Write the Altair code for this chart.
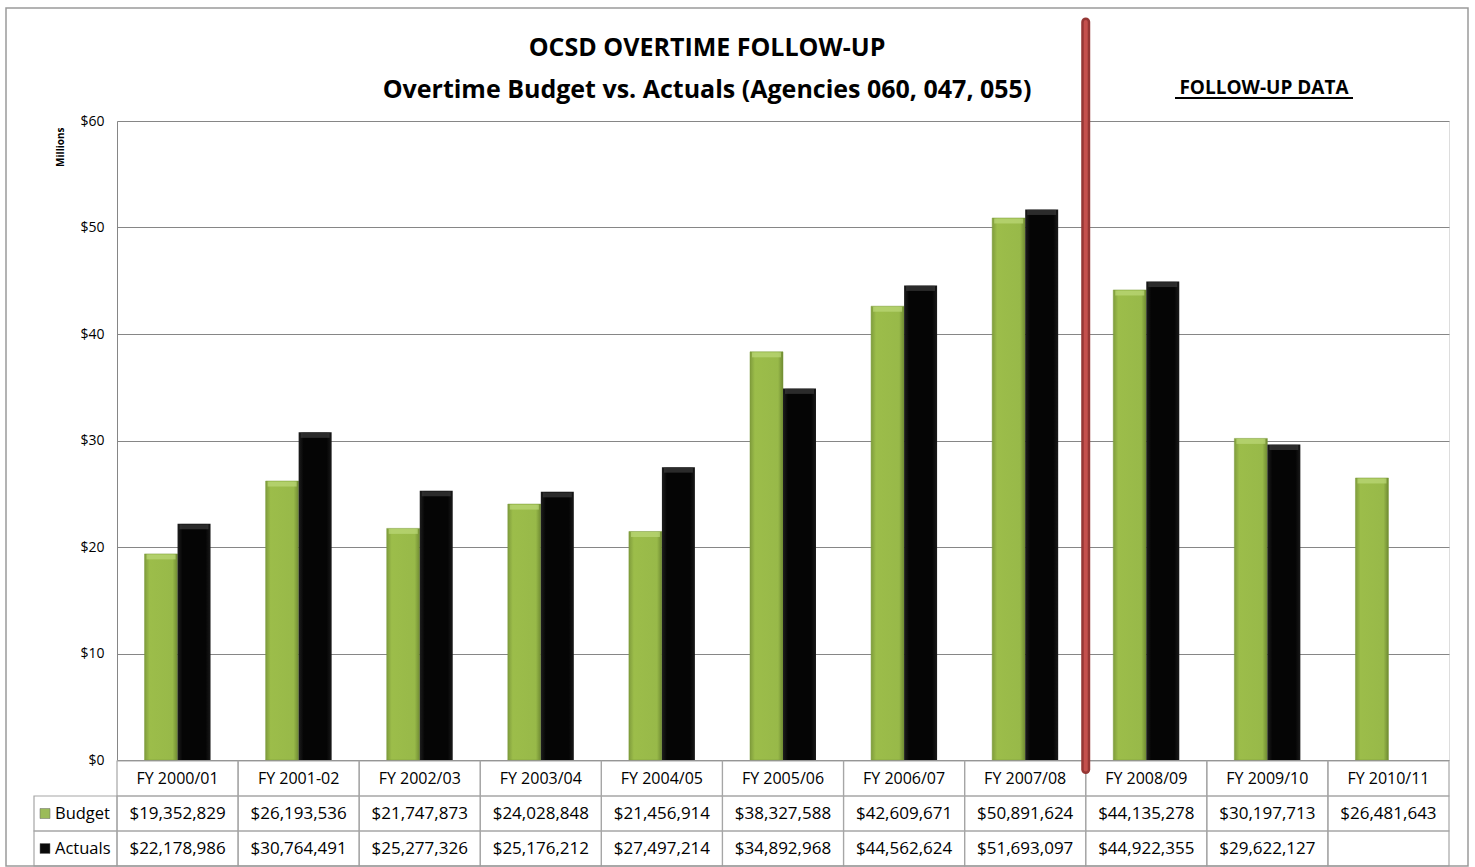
import altair as alt
import pandas as pd

# ---------------- data ----------------
categories = ["FY 2000/01", "FY 2001-02", "FY 2002/03", "FY 2003/04", "FY 2004/05",
              "FY 2005/06", "FY 2006/07", "FY 2007/08", "FY 2008/09", "FY 2009/10",
              "FY 2010/11"]
budget = [19352829, 26193536, 21747873, 24028848, 21456914, 38327588,
          42609671, 50891624, 44135278, 30197713, 26481643]
actuals = [22178986, 30764491, 25277326, 25176212, 27497214, 34892968,
           44562624, 51693097, 44922355, 29622127, None]
series = ["Budget", "Actuals"]
row_keys = ["header", "Budget", "Actuals"]
y_ticks = [0, 10, 20, 30, 40, 50, 60]
title_lines = ["OCSD OVERTIME FOLLOW-UP", "Overtime Budget vs. Actuals (Agencies 060, 047, 055)"]
divider_cat = "FY 2008/09"
divider_top = 69.3
divider_bottom = -0.9
followup_cat = "FY 2009/10"

FONT = "Open Sans"
W, H = 1332, 639
GREEN, BLACK = "#9bbb59", "#0a0a0a"

def money(v):
    return "" if v is None else "${:,}".format(v)

bar_rows = []
for c, b, a in zip(categories, budget, actuals):
    bar_rows.append({"cat": c, "series": "Budget", "value": b / 1e6})
    if a is not None:
        bar_rows.append({"cat": c, "series": "Actuals", "value": a / 1e6})
bars_df = pd.DataFrame(bar_rows)

cell_rows = []
for c, b, a in zip(categories, budget, actuals):
    cell_rows.append({"cat": c, "row": "header", "text": c, "size": 16})
    cell_rows.append({"cat": c, "row": "Budget", "text": money(b), "size": 17})
    cell_rows.append({"cat": c, "row": "Actuals", "text": money(a), "size": 17})
cells_df = pd.DataFrame(cell_rows)

label_df = pd.DataFrame({"row": ["Budget", "Actuals"], "series": ["Budget", "Actuals"]})
divider_df = pd.DataFrame({"cat": [divider_cat], "top": [divider_top], "bottom": [divider_bottom]})
follow_df = pd.DataFrame({"cat": [followup_cat], "text": ["FOLLOW-UP DATA"]})
title_df = pd.DataFrame({"line": title_lines, "ypix": [-73, -31]})
one_df = pd.DataFrame({"k": [0]})

# ---------------- scales / encodings ----------------
bar_x = alt.X("cat:N", scale=alt.Scale(domain=categories, paddingInner=0.455, paddingOuter=0.2275), axis=None)
bar_xo = alt.XOffset("series:N", scale=alt.Scale(domain=series))
val_scale = alt.Scale(domain=[0, 60], nice=False, zero=False)
tbl_x_scale = alt.Scale(domain=categories, paddingInner=0, paddingOuter=0)
row_y = alt.Y("row:N", scale=alt.Scale(domain=row_keys, range=[640, 745], paddingInner=0, paddingOuter=0), axis=None)

green_grad = alt.LinearGradient(gradient="linear", x1=0, x2=1, y1=0, y2=0, stops=[
    alt.GradientStop(offset=0, color="#7f9c3c"),
    alt.GradientStop(offset=0.15, color="#9cbd4a"),
    alt.GradientStop(offset=0.85, color="#98b949"),
    alt.GradientStop(offset=1, color="#6f8a32")])
black_grad = alt.LinearGradient(gradient="linear", x1=0, x2=1, y1=0, y2=0, stops=[
    alt.GradientStop(offset=0, color="#1e1e1e"),
    alt.GradientStop(offset=0.15, color="#050505"),
    alt.GradientStop(offset=0.85, color="#050505"),
    alt.GradientStop(offset=1, color="#1a1a1a")])

bud_df = bars_df[bars_df.series == "Budget"]
act_df = bars_df[bars_df.series == "Actuals"]

y_axis = alt.Axis(values=y_ticks, labelExpr="'$' + datum.value", title="Millions",
                  labelFont=FONT, labelFontSize=14, labelColor="black", labelPadding=13,
                  ticks=False, domainColor="#868686", gridColor="#868686", grid=True,
                  titleFont=FONT, titleFontSize=10, titleFontWeight="bold", titleColor="black",
                  titleAnchor="end", titlePadding=14, titleY=6)

budget_bars = alt.Chart(bud_df).mark_bar(fill=green_grad, stroke="#7a9a3a", strokeWidth=0.5).encode(
    x=bar_x, xOffset=bar_xo, y=alt.Y("value:Q", scale=val_scale, axis=y_axis))
actual_bars = alt.Chart(act_df).mark_bar(fill=black_grad).encode(
    x=bar_x, xOffset=bar_xo, y=alt.Y("value:Q", scale=val_scale, axis=None))
budget_top = alt.Chart(bud_df).mark_tick(color="#bcd979", thickness=5, size=29, yOffset=3).encode(
    x=bar_x, xOffset=bar_xo, y=alt.Y("value:Q", scale=val_scale, axis=None))
actual_top = alt.Chart(act_df).mark_tick(color="#3c3c3c", thickness=5, size=29, yOffset=3).encode(
    x=bar_x, xOffset=bar_xo, y=alt.Y("value:Q", scale=val_scale, axis=None))

tbl_x = alt.X("cat:N", scale=tbl_x_scale, axis=None)
cell_rects = alt.Chart(cells_df).mark_rect(fill="transparent", stroke="#a6a6a6", strokeWidth=1.2).encode(
    x=tbl_x, y=row_y)
cell_text = alt.Chart(cells_df).mark_text(font=FONT, color="black").encode(
    x=tbl_x, y=row_y, text="text:N", size=alt.Size("size:Q", scale=None, legend=None))

label_rects = alt.Chart(label_df).mark_rect(fill="transparent", stroke="#a6a6a6", strokeWidth=1.2).encode(
    x=alt.value(-83), x2=alt.value(0), y=row_y)
label_text = alt.Chart(label_df).mark_text(font=FONT, fontSize=16.5, color="black", align="left").encode(
    x=alt.value(-62), y=row_y, text="row:N")
label_swatch = alt.Chart(label_df).mark_square(size=100, opacity=1, stroke="#666", strokeWidth=0.5).encode(
    x=alt.value(-72), y=row_y,
    color=alt.Color("series:N", scale=alt.Scale(domain=series, range=[GREEN, BLACK]), legend=None))

div_x = alt.X("cat:N", scale=tbl_x_scale, axis=None, bandPosition=0)
div_outer = alt.Chart(divider_df).mark_rule(color="#953735", strokeWidth=9, strokeCap="round").encode(
    x=div_x, y=alt.Y("top:Q", scale=val_scale, axis=None), y2="bottom:Q")
div_inner = alt.Chart(divider_df).mark_rule(color="#c4504d", strokeWidth=4, strokeCap="round").encode(
    x=div_x, y=alt.Y("top:Q", scale=val_scale, axis=None), y2="bottom:Q")

follow_text = alt.Chart(follow_df).mark_text(font=FONT, fontSize=19, fontWeight="bold", color="black").encode(
    x=alt.value(1147), y=alt.value(-33), text="text:N")
follow_line = alt.Chart(one_df).mark_rule(color="black", strokeWidth=2).encode(
    x=alt.value(1058), x2=alt.value(1236), y=alt.value(-23))

title_text = alt.Chart(title_df).mark_text(font=FONT, fontSize=25, fontWeight="bold", color="black",
                                           baseline="middle").encode(
    x=alt.value(590), y=alt.Y("ypix:Q", scale=None, axis=None), text="line:N")

border = alt.Chart(one_df).mark_rect(fill="transparent", stroke="#9a9a9a", strokeWidth=1.5).encode(
    x=alt.value(-111), x2=alt.value(1351), y=alt.value(-113), y2=alt.value(745))

chart = alt.layer(
    budget_bars, actual_bars, budget_top, actual_top,
    cell_rects, cell_text, label_rects, label_text, label_swatch,
    div_outer, div_inner, follow_text, follow_line, title_text, border
).resolve_scale(
    x="independent", y="independent", xOffset="independent", color="independent"
).properties(
    width=W, height=H,
    autosize=alt.AutoSizeParams(type="none"),
    padding={"left": 117, "top": 121, "right": 26, "bottom": 107},
).configure_view(stroke=None).configure(background="white")

chart.save("out.html", embed_options={"renderer": "svg", "actions": False})
